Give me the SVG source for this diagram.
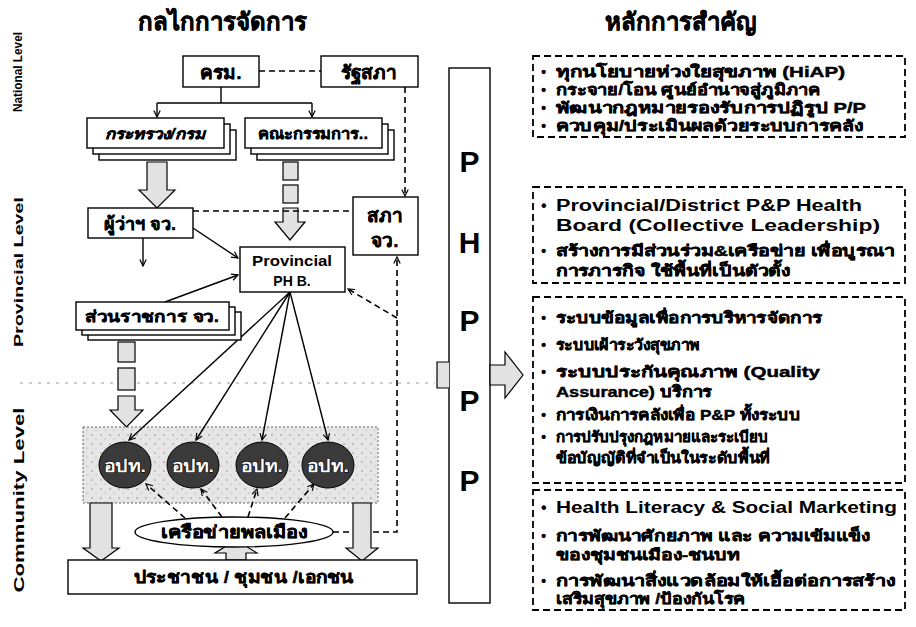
<svg xmlns="http://www.w3.org/2000/svg" width="916" height="627" viewBox="0 0 916 627">
<defs>
<style>
.t{font-family:"Liberation Sans","DejaVu Sans","Noto Sans",sans-serif;font-weight:bold;fill:#000}
.h{stroke:#000;stroke-width:0.45}
.box{fill:#fff;stroke:#000;stroke-width:1.4}
.dbox{fill:none;stroke:#000;stroke-width:1.8;stroke-dasharray:7 4}
.ln{fill:none;stroke:#000;stroke-width:1.4}
.dl{fill:none;stroke:#000;stroke-width:1.6;stroke-dasharray:6 4}
.hol{fill:#e2e2e2;stroke:#000;stroke-width:1.2}
.ell{fill:#3a3a3a;stroke:#000;stroke-width:1}
.ot{font-family:"Liberation Sans","DejaVu Sans","Noto Sans",sans-serif;font-weight:bold;fill:#fff;stroke:#000;stroke-width:1;paint-order:stroke}
</style>
<marker id="ah" viewBox="0 0 10 10" refX="9" refY="5" markerWidth="8" markerHeight="8" orient="auto-start-reverse" markerUnits="userSpaceOnUse">
<path d="M1,1 L9,5 L1,9" fill="none" stroke="#000" stroke-width="1.5"/>
</marker>
<pattern id="spk" width="9" height="9" patternUnits="userSpaceOnUse">
<rect width="9" height="9" fill="#e6e6e6"/>
<circle cx="2" cy="3" r="0.7" fill="#777"/>
<circle cx="6" cy="7" r="0.6" fill="#999"/>
</pattern>
</defs>
<rect width="916" height="627" fill="#fff"/>

<!-- titles -->
<text class="t h" x="222" y="30" font-size="24" text-anchor="middle">กลไกการจัดการ</text>
<text class="t h" x="680" y="30" font-size="24" text-anchor="middle">หลักการสำคัญ</text>

<!-- level labels -->
<text class="t" font-size="12" text-anchor="middle" transform="translate(22,72) rotate(-90)" textLength="80" lengthAdjust="spacingAndGlyphs">National Level</text>
<text class="t" font-size="13" text-anchor="middle" transform="translate(23,272) rotate(-90)" textLength="150" lengthAdjust="spacingAndGlyphs">Provincial Level</text>
<text class="t" font-size="15" text-anchor="middle" transform="translate(24,500) rotate(-90)" textLength="185" lengthAdjust="spacingAndGlyphs">Community Level</text>

<!-- faint level divider -->
<line x1="20" y1="383" x2="435" y2="383" stroke="#999" stroke-width="1" stroke-dasharray="3 6"/>

<!-- community background -->
<g id="community-area">
<rect x="83" y="427" width="295" height="76" fill="url(#spk)" stroke="#666" stroke-width="1" stroke-dasharray="2 2"/>
</g>

<!-- connectors -->
<g id="connectors">
<line class="dl" x1="259" y1="71" x2="321" y2="71"/>
<path class="ln" d="M221,87 V103 M157,103 H312"/>
<line class="ln" x1="157" y1="103" x2="157" y2="117" marker-end="url(#ah)"/>
<line class="ln" x1="312" y1="103" x2="312" y2="117" marker-end="url(#ah)"/>
<line class="dl" x1="405" y1="87" x2="405" y2="196" marker-end="url(#ah)"/>
<path class="hol" d="M147,162 H167 V190 H175 L157,208 L139,190 H147 Z"/>
<rect class="hol" x="283" y="162" width="15" height="18"/>
<rect class="hol" x="283" y="185" width="15" height="18"/>
<path class="hol" d="M283,208 H298 V222 H305 L290,240 L275,222 H283 Z"/>
<line class="dl" x1="193" y1="211" x2="353" y2="211"/>
<line class="ln" x1="193" y1="228" x2="238" y2="258" marker-end="url(#ah)"/>
<line class="ln" x1="143" y1="238" x2="143" y2="266" marker-end="url(#ah)"/>
<line class="ln" x1="165" y1="302" x2="238" y2="275" marker-end="url(#ah)"/>
<path class="dl" d="M333,532 H397 V257" marker-end="url(#ah)"/>
<line class="dl" x1="397" y1="318" x2="348" y2="289" marker-end="url(#ah)"/>
<line class="ln" x1="290" y1="292" x2="129" y2="440" marker-end="url(#ah)"/>
<line class="ln" x1="290" y1="292" x2="196" y2="440" marker-end="url(#ah)"/>
<line class="ln" x1="290" y1="292" x2="262" y2="440" marker-end="url(#ah)"/>
<line class="ln" x1="290" y1="292" x2="328" y2="440" marker-end="url(#ah)"/>
<rect class="hol" x="118" y="342" width="17" height="20"/>
<rect class="hol" x="118" y="368" width="17" height="22"/>
<path class="hol" d="M118,396 H135 V410 H143 L126.5,427 L110,410 H118 Z"/>
<line class="dl" x1="185" y1="518" x2="146" y2="484" marker-end="url(#ah)"/>
<line class="dl" x1="222" y1="517" x2="201" y2="489" marker-end="url(#ah)"/>
<line class="dl" x1="248" y1="517" x2="257" y2="489" marker-end="url(#ah)"/>
<line class="dl" x1="285" y1="518" x2="314" y2="484" marker-end="url(#ah)"/>
<path class="hol" d="M90,503 H112 V548 H119 L101,561 L83,548 H90 Z"/>
<path class="hol" d="M353,503 H371 V548 H378 L362,561 L346,548 H353 Z"/>
<path class="hol" d="M226,560 V553 H215 L236,540 L257,553 H246 V560 Z"/>
</g>

<!-- nodes -->
<g id="n-khrm"><rect class="box" x="183" y="56" width="76" height="31"/><text class="t h" x="221" y="79" font-size="19" text-anchor="middle">ครม.</text></g>
<g id="n-ratthasapha"><rect class="box" x="321" y="56" width="97" height="31"/><text class="t h" x="369" y="79" font-size="19" text-anchor="middle">รัฐสภา</text></g>
<g id="n-ministry">
<rect class="box" x="99" y="130" width="137" height="30"/>
<rect class="box" x="93" y="124" width="137" height="30"/>
<rect class="box" x="87" y="118" width="137" height="30"/>
<text class="t h" x="155" y="139" font-size="15" text-anchor="middle" font-style="italic" textLength="100" lengthAdjust="spacingAndGlyphs">กระทรวง/กรม</text>
</g>
<g id="n-committee">
<rect class="box" x="257" y="130" width="137" height="30"/>
<rect class="box" x="251" y="124" width="137" height="30"/>
<rect class="box" x="245" y="118" width="137" height="30"/>
<text class="t h" x="313" y="139" font-size="15" text-anchor="middle" textLength="110" lengthAdjust="spacingAndGlyphs">คณะกรรมการ..</text>
</g>
<g id="n-governor"><rect class="box" x="88" y="208" width="105" height="30"/><text class="t h" x="140" y="230" font-size="18" text-anchor="middle">ผู้ว่าฯ จว.</text></g>
<g id="n-provcouncil"><rect class="box" x="353" y="197" width="65" height="58"/><text class="t h" x="385" y="222" font-size="19" text-anchor="middle">สภา</text><text class="t h" x="385" y="247" font-size="19" text-anchor="middle">จว.</text></g>
<g id="n-phb"><rect class="box" x="240" y="247" width="105" height="45"/><text class="t" x="292" y="266" font-size="14" text-anchor="middle" textLength="80" lengthAdjust="spacingAndGlyphs">Provincial</text><text class="t" x="292" y="286" font-size="14" text-anchor="middle">PH B.</text></g>
<g id="n-provagency">
<rect class="box" x="88" y="312" width="153" height="28"/>
<rect class="box" x="82" y="307" width="153" height="28"/>
<rect class="box" x="76" y="302" width="153" height="28"/>
<text class="t h" x="152" y="322" font-size="16" text-anchor="middle" textLength="134" lengthAdjust="spacingAndGlyphs">ส่วนราชการ จว.</text>
</g>
<g id="n-opt1"><ellipse class="ell" cx="125" cy="465" rx="26" ry="23"/><text class="ot" x="125" y="472" font-size="17" text-anchor="middle" textLength="42" lengthAdjust="spacingAndGlyphs">อปท.</text></g>
<g id="n-opt2"><ellipse class="ell" cx="193" cy="465" rx="26" ry="23"/><text class="ot" x="193" y="472" font-size="17" text-anchor="middle" textLength="42" lengthAdjust="spacingAndGlyphs">อปท.</text></g>
<g id="n-opt3"><ellipse class="ell" cx="262" cy="465" rx="26" ry="23"/><text class="ot" x="262" y="472" font-size="17" text-anchor="middle" textLength="42" lengthAdjust="spacingAndGlyphs">อปท.</text></g>
<g id="n-opt4"><ellipse class="ell" cx="328" cy="465" rx="26" ry="23"/><text class="ot" x="328" y="472" font-size="17" text-anchor="middle" textLength="42" lengthAdjust="spacingAndGlyphs">อปท.</text></g>
<g id="n-network"><ellipse cx="234" cy="532" rx="99" ry="15" fill="#fff" stroke="#000" stroke-width="1.4"/><text class="t h" x="234" y="538" font-size="17" text-anchor="middle" textLength="146" lengthAdjust="spacingAndGlyphs">เครือข่ายพลเมือง</text></g>
<g id="n-people"><rect class="box" x="68" y="560" width="349" height="34"/><text class="t h" x="244" y="583" font-size="17" text-anchor="middle" textLength="220" lengthAdjust="spacingAndGlyphs">ประชาชน / ชุมชน /เอกชน</text></g>

<!-- PHPPP column -->
<g id="n-phppp">
<rect class="box" x="449" y="68" width="41" height="535"/>
<path class="hol" d="M449,362 H437 V388 H449" fill="#fff"/>
<path class="hol" d="M490,365 H505 V352 L523,375 L505,398 V385 H490 Z"/>
<text class="t" x="469.5" y="172" font-size="30" text-anchor="middle">P</text>
<text class="t" x="469.5" y="253" font-size="30" text-anchor="middle">H</text>
<text class="t" x="469.5" y="331" font-size="30" text-anchor="middle">P</text>
<text class="t" x="469.5" y="411" font-size="30" text-anchor="middle">P</text>
<text class="t" x="469.5" y="491" font-size="30" text-anchor="middle">P</text>
</g>

<!-- principle boxes -->
<g id="n-principle1">
<rect class="dbox" x="533" y="56" width="372" height="81"/>
<text class="t" font-size="15" x="541" y="77">•</text><text class="t h" font-size="15" x="556" y="77" textLength="289" lengthAdjust="spacingAndGlyphs">ทุกนโยบายห่วงใยสุขภาพ  (HiAP)</text>
<text class="t" font-size="15" x="541" y="95">•</text><text class="t h" font-size="15" x="556" y="95" textLength="264" lengthAdjust="spacingAndGlyphs">กระจาย/โอน ศูนย์อำนาจสู่ภูมิภาค</text>
<text class="t" font-size="15" x="541" y="113">•</text><text class="t h" font-size="15" x="556" y="113" textLength="310" lengthAdjust="spacingAndGlyphs">พัฒนากฎหมายรองรับการปฏิรูป  P/P</text>
<text class="t" font-size="15" x="541" y="131">•</text><text class="t h" font-size="15" x="556" y="131" textLength="307" lengthAdjust="spacingAndGlyphs">ควบคุม/ประเมินผลด้วยระบบการคลัง</text>
</g>
<g id="n-principle2">
<rect class="dbox" x="533" y="187" width="372" height="96"/>
<text class="t" font-size="16" x="541" y="211">•</text><text class="t" font-size="16" x="556" y="211" textLength="306" lengthAdjust="spacingAndGlyphs">Provincial/District P&amp;P Health</text>
<text class="t" font-size="16" x="556" y="231" textLength="324" lengthAdjust="spacingAndGlyphs">Board (Collective Leadership)</text>
<text class="t" font-size="15" x="541" y="256">•</text><text class="t h" font-size="15" x="556" y="256" textLength="339" lengthAdjust="spacingAndGlyphs">สร้างการมีส่วนร่วม&amp;เครือข่าย เพื่อบูรณา</text>
<text class="t h" font-size="15" x="556" y="276" textLength="234" lengthAdjust="spacingAndGlyphs">การภารกิจ ใช้พื้นที่เป็นตัวตั้ง</text>
</g>
<g id="n-principle3">
<rect class="dbox" x="533" y="297" width="372" height="186"/>
<text class="t" font-size="15" x="541" y="323">•</text><text class="t h" font-size="15" x="556" y="323" textLength="266" lengthAdjust="spacingAndGlyphs">ระบบข้อมูลเพื่อการบริหารจัดการ</text>
<text class="t" font-size="15" x="541" y="350">•</text><text class="t h" font-size="15" x="556" y="350" textLength="144" lengthAdjust="spacingAndGlyphs">ระบบเฝ้าระวังสุขภาพ</text>
<text class="t" font-size="15" x="541" y="377">•</text><text class="t h" font-size="15" x="556" y="377" textLength="264" lengthAdjust="spacingAndGlyphs">ระบบประกันคุณภาพ  (Quality</text>
<text class="t h" font-size="15" x="556" y="397" textLength="156" lengthAdjust="spacingAndGlyphs">Assurance) บริการ</text>
<text class="t" font-size="15" x="541" y="420">•</text><text class="t h" font-size="15" x="556" y="420" textLength="244" lengthAdjust="spacingAndGlyphs">การเงินการคลังเพื่อ  P&amp;P ทั้งระบบ</text>
<text class="t" font-size="15" x="541" y="442">•</text><text class="t h" font-size="15" x="556" y="442" textLength="212" lengthAdjust="spacingAndGlyphs">การปรับปรุงกฎหมายและระเบียบ</text>
<text class="t h" font-size="15" x="556" y="463" textLength="214" lengthAdjust="spacingAndGlyphs">ข้อบัญญัติที่จำเป็นในระดับพื้นที่</text>
</g>
<g id="n-principle4">
<rect class="dbox" x="533" y="490" width="372" height="120"/>
<text class="t" font-size="16" x="541" y="513">•</text><text class="t" font-size="16" x="556" y="513" textLength="341" lengthAdjust="spacingAndGlyphs">Health Literacy &amp; Social Marketing</text>
<text class="t" font-size="15" x="541" y="541">•</text><text class="t h" font-size="15" x="556" y="541" textLength="314" lengthAdjust="spacingAndGlyphs">การพัฒนาศักยภาพ  และ ความเข้มแข็ง</text>
<text class="t h" font-size="15" x="556" y="560" textLength="184" lengthAdjust="spacingAndGlyphs">ของชุมชนเมือง-ชนบท</text>
<text class="t" font-size="15" x="541" y="586">•</text><text class="t h" font-size="15" x="556" y="586" textLength="339" lengthAdjust="spacingAndGlyphs">การพัฒนาสิ่งแวดล้อมให้เอื้อต่อการสร้าง</text>
<text class="t h" font-size="15" x="556" y="604" textLength="189" lengthAdjust="spacingAndGlyphs">เสริมสุขภาพ /ป้องกันโรค</text>
</g>
</svg>
